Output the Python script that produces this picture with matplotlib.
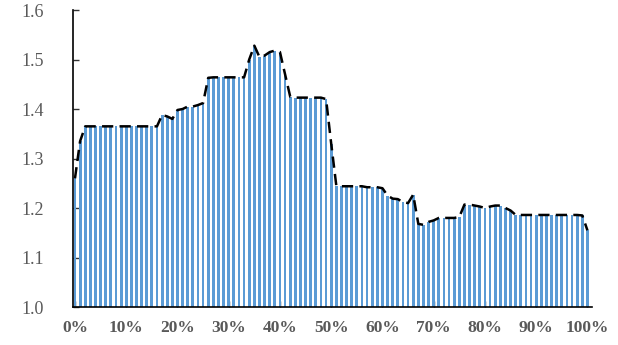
import matplotlib
matplotlib.use("Agg")
import matplotlib.pyplot as plt

# percentiles 0%..100%
pct = list(range(0, 101))
ratio = [
    1.260, 1.335, 1.365, 1.365, 1.365, 1.365, 1.365, 1.365, 1.365, 1.365,
    1.365, 1.365, 1.365, 1.365, 1.365, 1.365, 1.365, 1.388, 1.385, 1.380,
    1.398, 1.400, 1.405, 1.405, 1.408, 1.412, 1.463, 1.464, 1.464, 1.464,
    1.464, 1.464, 1.464, 1.464, 1.500, 1.528, 1.505, 1.508, 1.515, 1.518,
    1.515, 1.470, 1.425, 1.423, 1.423, 1.423, 1.423, 1.423, 1.423, 1.420,
    1.330, 1.245, 1.244, 1.244, 1.244, 1.244, 1.244, 1.242, 1.242, 1.242,
    1.240, 1.225, 1.219, 1.218, 1.212, 1.210, 1.227, 1.168, 1.166, 1.172,
    1.175, 1.180, 1.180, 1.180, 1.180, 1.182, 1.207, 1.207, 1.205, 1.203,
    1.200, 1.203, 1.205, 1.205, 1.200, 1.195, 1.186, 1.186, 1.186, 1.186,
    1.186, 1.186, 1.186, 1.186, 1.186, 1.186, 1.186, 1.186, 1.186, 1.185,
    1.155,
]
xticks = list(range(0, 101, 10))
xlabels = [str(t) + "%" for t in xticks]
yticks = [1.0, 1.1, 1.2, 1.3, 1.4, 1.5, 1.6]

fig = plt.figure(figsize=(6.18, 3.45), dpi=100)
ax = fig.add_axes([0.118, 0.110, 0.840, 0.861])

ax.bar(pct, [v - 1.0 for v in ratio], bottom=1.0, width=0.55,
       color="#5b9bd5", linewidth=0, zorder=2)
ax.plot(pct, ratio, color="black", linestyle=(0, (4.5, 2.5)), linewidth=1.8, zorder=3)

ax.set_xlim(-0.4, 100.9)
ax.set_ylim(1.0, 1.6)
ax.set_xticks(xticks)
ax.set_xticklabels(xlabels)
ax.set_yticks(yticks)
ax.set_yticklabels(["%.1f" % t for t in yticks])

for s in ["top", "right"]:
    ax.spines[s].set_visible(False)
for s in ["left", "bottom"]:
    ax.spines[s].set_color("black")
    ax.spines[s].set_linewidth(1.2)

ax.tick_params(axis="both", direction="in", length=4, width=1, color="#333333",
               labelcolor="#595959")
ax.tick_params(axis="y", pad=21, labelsize=13)
ax.tick_params(axis="x", pad=9, labelsize=12.5)
for lab in ax.get_xticklabels() + ax.get_yticklabels():
    lab.set_fontfamily("Liberation Serif")
for lab in ax.get_xticklabels():
    lab.set_fontweight("bold")

fig.savefig("out.png", dpi=100)
